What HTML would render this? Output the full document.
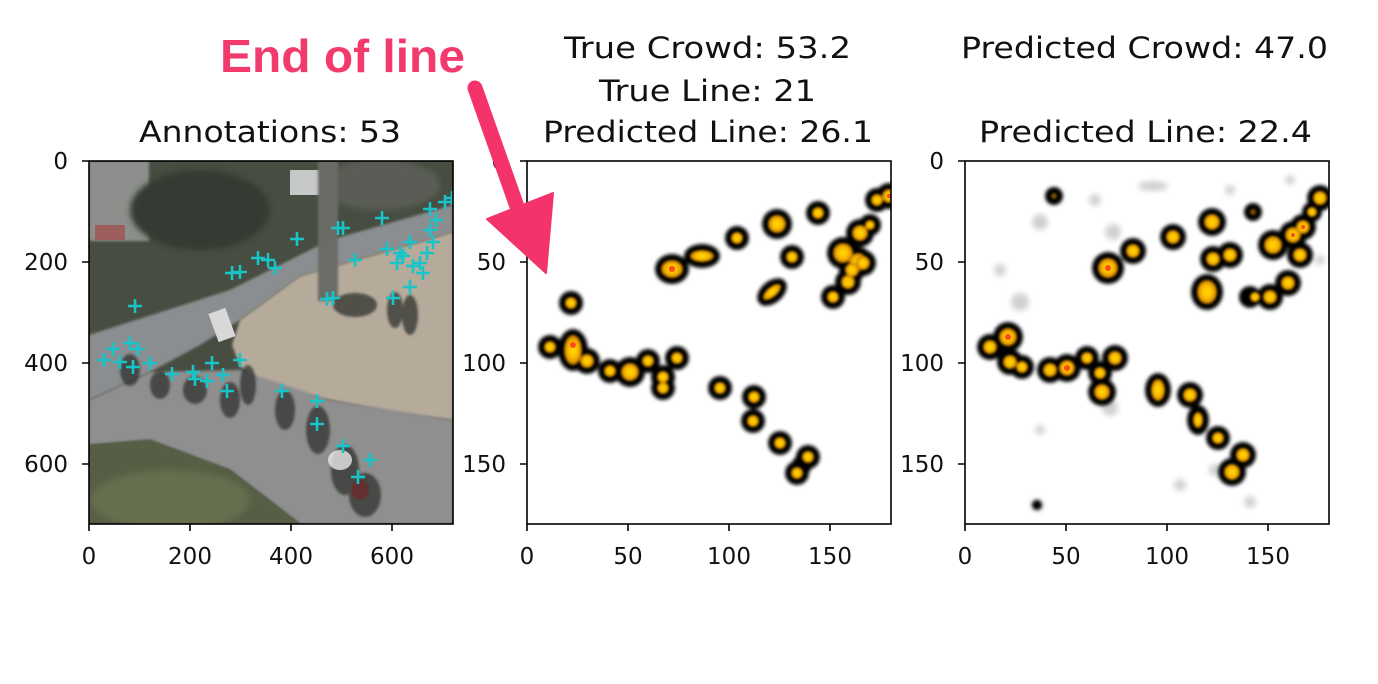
<!DOCTYPE html>
<html><head><meta charset="utf-8"><style>
html,body{margin:0;padding:0;background:#fff;}
svg{display:block;}
text{font-family:"DejaVu Sans","Liberation Sans",sans-serif;fill:#111;}
.t{font-size:29px;}
.k{font-size:23px;}
</style></head><body>
<svg width="1378" height="684" viewBox="0 0 1378 684" xmlns="http://www.w3.org/2000/svg">
<defs>
<clipPath id="c1"><rect x="89" y="161" width="364" height="363"/></clipPath>
<clipPath id="c2"><rect x="527" y="161" width="364" height="363"/></clipPath>
<clipPath id="c3"><rect x="965" y="161" width="364" height="363"/></clipPath>
<filter id="bl" x="-50%" y="-50%" width="200%" height="200%"><feGaussianBlur stdDeviation="1.8"/></filter>
<filter id="bl2" x="-50%" y="-50%" width="200%" height="200%"><feGaussianBlur stdDeviation="3"/></filter>
<filter id="bl3" x="-50%" y="-50%" width="200%" height="200%"><feGaussianBlur stdDeviation="1.2"/></filter>
<radialGradient id="g"><stop offset="0" stop-color="#ffdc00"/><stop offset="0.45" stop-color="#ffc400"/><stop offset="0.8" stop-color="#e59a00"/><stop offset="1" stop-color="#a86a00"/></radialGradient>
<g id="plus"><path d="M-7 0H7M0 -7V7" stroke="#19c4c9" stroke-width="2.6"/></g>
</defs>

<!-- Panel 1 photo -->
<g clip-path="url(#c1)">
<rect x="89" y="161" width="364" height="363" fill="#474d41"/>
<rect x="89" y="161" width="60" height="80" fill="#8d8f8c" filter="url(#bl3)"/>
<rect x="95" y="225" width="30" height="15" fill="#a34a4a" opacity="0.7"/>
<ellipse cx="200" cy="210" rx="70" ry="40" fill="#353b31" filter="url(#bl2)"/>
<ellipse cx="380" cy="185" rx="60" ry="25" fill="#5a5d55" filter="url(#bl2)"/>
<rect x="290" y="170" width="30" height="25" fill="#c7c9c8"/>
<polygon points="89,335 230,290 330,240 453,205 453,232 420,242 300,276 240,320 200,345 150,372 89,400" fill="#8b8e90" filter="url(#bl3)"/>
<polygon points="240,320 300,276 420,242 453,232 453,420 400,414 330,400 262,386 240,366 232,345" fill="#b6aa9b" filter="url(#bl3)"/>
<polygon points="89,400 150,372 240,370 330,400 453,420 453,524 300,524 230,470 150,440 89,445" fill="#8e8f8e" filter="url(#bl3)"/>
<polygon points="89,445 150,440 230,470 300,524 89,524" fill="#565e44" filter="url(#bl3)"/>
<ellipse cx="170" cy="500" rx="80" ry="30" fill="#6f7855" opacity="0.6" filter="url(#bl2)"/>
<rect x="318" y="161" width="20" height="140" fill="#6a6c66" filter="url(#bl3)"/>
<rect x="213" y="310" width="18" height="30" fill="#d8d8d8" transform="rotate(-20 222 325)"/>
<g fill="#2e302e" opacity="0.75" filter="url(#bl3)">
<ellipse cx="130" cy="370" rx="10" ry="16"/><ellipse cx="160" cy="385" rx="10" ry="14"/><ellipse cx="195" cy="390" rx="12" ry="14"/>
<ellipse cx="230" cy="400" rx="10" ry="18"/><ellipse cx="248" cy="385" rx="8" ry="20"/><ellipse cx="285" cy="410" rx="10" ry="20"/>
<ellipse cx="318" cy="430" rx="12" ry="24"/><ellipse cx="345" cy="470" rx="14" ry="25"/><ellipse cx="365" cy="495" rx="16" ry="22"/>
<ellipse cx="410" cy="315" rx="8" ry="20"/><ellipse cx="395" cy="310" rx="8" ry="18"/><ellipse cx="355" cy="305" rx="22" ry="12"/>
</g>
<ellipse cx="340" cy="460" rx="12" ry="10" fill="#e8e8e8" opacity="0.8"/>
<ellipse cx="360" cy="490" rx="9" ry="10" fill="#6a2a2a" opacity="0.8"/>
<g>
<use href="#plus" x="135" y="306"/><use href="#plus" x="113" y="349"/><use href="#plus" x="130" y="343"/><use href="#plus" x="138" y="349"/>
<use href="#plus" x="133" y="367"/><use href="#plus" x="150" y="363"/><use href="#plus" x="172" y="374"/><use href="#plus" x="193" y="372"/>
<use href="#plus" x="195" y="379"/><use href="#plus" x="212" y="363"/><use href="#plus" x="223" y="375"/><use href="#plus" x="227" y="391"/>
<use href="#plus" x="240" y="360"/><use href="#plus" x="282" y="391"/><use href="#plus" x="317" y="401"/><use href="#plus" x="317" y="424"/>
<use href="#plus" x="343" y="446"/><use href="#plus" x="370" y="460"/><use href="#plus" x="358" y="477"/><use href="#plus" x="232" y="273"/>
<use href="#plus" x="240" y="272"/><use href="#plus" x="258" y="258"/><use href="#plus" x="268" y="260"/><use href="#plus" x="297" y="239"/>
<use href="#plus" x="338" y="228"/><use href="#plus" x="343" y="228"/><use href="#plus" x="382" y="218"/><use href="#plus" x="430" y="209"/>
<use href="#plus" x="445" y="202"/><use href="#plus" x="355" y="260"/><use href="#plus" x="333" y="298"/><use href="#plus" x="327" y="299"/>
<use href="#plus" x="393" y="298"/><use href="#plus" x="410" y="287"/><use href="#plus" x="387" y="249"/><use href="#plus" x="400" y="253"/>
<use href="#plus" x="410" y="242"/><use href="#plus" x="420" y="263"/><use href="#plus" x="423" y="273"/><use href="#plus" x="430" y="230"/>
<use href="#plus" x="433" y="242"/><use href="#plus" x="397" y="263"/><use href="#plus" x="413" y="266"/><use href="#plus" x="403" y="256"/>
<use href="#plus" x="427" y="253"/><use href="#plus" x="436" y="220"/><use href="#plus" x="452" y="198"/><use href="#plus" x="104" y="360"/>
<use href="#plus" x="120" y="362"/><use href="#plus" x="207" y="381"/><use href="#plus" x="275" y="268"/>
</g>
</g>

<!-- Panel 2 blobs -->
<g clip-path="url(#c2)">
<g fill="#000" filter="url(#bl)">
<circle cx="571" cy="303" r="12"/><circle cx="550" cy="347" r="12"/><ellipse cx="573" cy="350" rx="15" ry="21"/><circle cx="587" cy="361" r="13"/>
<circle cx="610" cy="371" r="12"/><circle cx="630" cy="372" r="15"/><circle cx="648" cy="361" r="12"/><circle cx="663" cy="377" r="12"/><circle cx="663" cy="388" r="12"/>
<circle cx="677" cy="358" r="12"/><circle cx="720" cy="388" r="12"/><circle cx="754" cy="397" r="12"/><circle cx="753" cy="421" r="12"/>
<circle cx="780" cy="443" r="12"/><circle cx="808" cy="457" r="12"/><circle cx="797" cy="473" r="12"/><circle cx="802" cy="465" r="10"/>
<ellipse cx="672" cy="269" rx="17" ry="15"/><ellipse cx="702" cy="256" rx="18" ry="12"/><circle cx="737" cy="238" r="12"/><circle cx="777" cy="224" r="15"/>
<circle cx="818" cy="213" r="12"/><circle cx="792" cy="257" r="12"/><ellipse cx="772" cy="292" rx="17" ry="11" transform="rotate(-40 772 292)"/>
<circle cx="833" cy="297" r="12"/><circle cx="848" cy="282" r="13"/><circle cx="843" cy="253" r="16"/><circle cx="858" cy="262" r="15"/><circle cx="860" cy="233" r="14"/>
<circle cx="863" cy="263" r="13"/><circle cx="852" cy="270" r="13"/><circle cx="870" cy="225" r="11"/><circle cx="877" cy="200" r="12"/><circle cx="889" cy="196" r="13"/>
</g>
<g fill="url(#g)" filter="url(#bl3)">
<circle cx="571" cy="303" r="6"/><circle cx="550" cy="347" r="6"/><ellipse cx="573" cy="350" rx="9" ry="15"/><circle cx="587" cy="361" r="7"/>
<circle cx="610" cy="371" r="6"/><circle cx="630" cy="372" r="9"/><circle cx="648" cy="361" r="6"/><circle cx="663" cy="377" r="6"/><circle cx="663" cy="388" r="6"/>
<circle cx="677" cy="358" r="6"/><circle cx="720" cy="388" r="6"/><circle cx="754" cy="397" r="6"/><circle cx="753" cy="421" r="6"/>
<circle cx="780" cy="443" r="6"/><circle cx="808" cy="457" r="6"/><circle cx="797" cy="473" r="6"/>
<ellipse cx="672" cy="269" rx="11" ry="9"/><ellipse cx="702" cy="256" rx="12" ry="6"/><circle cx="737" cy="238" r="6"/><circle cx="777" cy="224" r="9"/>
<circle cx="818" cy="213" r="6"/><circle cx="792" cy="257" r="6"/><ellipse cx="772" cy="292" rx="11" ry="5" transform="rotate(-40 772 292)"/>
<circle cx="833" cy="297" r="6"/><circle cx="848" cy="282" r="7"/><circle cx="843" cy="253" r="10"/><circle cx="858" cy="262" r="9"/><circle cx="860" cy="233" r="8"/>
<circle cx="863" cy="263" r="7"/><circle cx="852" cy="270" r="7"/><circle cx="870" cy="225" r="5"/><circle cx="877" cy="200" r="6"/><circle cx="889" cy="196" r="7"/>
</g>
<g fill="#ff4a20"><circle cx="573" cy="345" r="3"/><circle cx="672" cy="269" r="3"/><circle cx="889" cy="196" r="2"/></g>
</g>

<!-- Panel 3 blobs -->
<g clip-path="url(#c3)">
<g fill="#000" opacity="0.18" filter="url(#bl2)">
<circle cx="1037" cy="505" r="6"/><circle cx="1040" cy="222" r="8"/><circle cx="1020" cy="302" r="9"/><circle cx="1113" cy="232" r="8"/>
<ellipse cx="1153" cy="186" rx="15" ry="5"/><circle cx="1110" cy="408" r="8"/><circle cx="1180" cy="485" r="6"/><circle cx="1250" cy="502" r="6"/>
<circle cx="1095" cy="200" r="6"/><circle cx="1215" cy="470" r="6"/><circle cx="1040" cy="430" r="5"/><circle cx="1000" cy="270" r="6"/>
<circle cx="1230" cy="190" r="5"/><circle cx="1320" cy="260" r="5"/><circle cx="1290" cy="180" r="5"/>
</g>
<g fill="#000" filter="url(#bl)">
<circle cx="1054" cy="196" r="9"/><circle cx="1037" cy="505" r="5"/><circle cx="1253" cy="212" r="9"/>
<circle cx="1108" cy="268" r="16"/><circle cx="1133" cy="251" r="13"/><circle cx="1173" cy="237" r="13"/><circle cx="1212" cy="222" r="14"/>
<circle cx="1213" cy="259" r="13"/><circle cx="1230" cy="255" r="13"/><ellipse cx="1207" cy="292" rx="16" ry="18"/>
<circle cx="1250" cy="297" r="11"/><circle cx="1270" cy="297" r="13"/><circle cx="1288" cy="283" r="13"/>
<circle cx="1273" cy="245" r="15"/><circle cx="1293" cy="235" r="14"/><circle cx="1303" cy="227" r="13"/><circle cx="1300" cy="255" r="13"/><circle cx="1320" cy="198" r="13"/><circle cx="1312" cy="212" r="10"/>
<circle cx="990" cy="347" r="13"/><circle cx="1008" cy="337" r="15"/><circle cx="1010" cy="362" r="13"/><circle cx="1022" cy="367" r="12"/>
<circle cx="1050" cy="370" r="13"/><circle cx="1067" cy="368" r="14"/><circle cx="1087" cy="358" r="12"/><circle cx="1100" cy="373" r="12"/><circle cx="1102" cy="392" r="14"/><circle cx="1115" cy="358" r="13"/>
<ellipse cx="1158" cy="390" rx="13" ry="17"/><circle cx="1190" cy="395" r="13"/><ellipse cx="1198" cy="420" rx="11" ry="15"/>
<circle cx="1218" cy="438" r="12"/><circle cx="1243" cy="455" r="13"/><circle cx="1232" cy="472" r="14"/>
</g>
<g fill="#7a5200" filter="url(#bl3)"><circle cx="1054" cy="196" r="3"/><circle cx="1253" cy="212" r="3"/></g>
<g fill="url(#g)" filter="url(#bl3)">
<circle cx="1108" cy="268" r="10"/><circle cx="1133" cy="251" r="7"/><circle cx="1173" cy="237" r="7"/><circle cx="1212" cy="222" r="8"/>
<circle cx="1213" cy="259" r="7"/><circle cx="1230" cy="255" r="7"/><ellipse cx="1207" cy="292" rx="10" ry="12"/>
<circle cx="1255" cy="297" r="5"/><circle cx="1270" cy="297" r="7"/><circle cx="1288" cy="283" r="7"/>
<circle cx="1273" cy="245" r="9"/><circle cx="1293" cy="235" r="8"/><circle cx="1303" cy="227" r="7"/><circle cx="1300" cy="255" r="7"/><circle cx="1320" cy="198" r="7"/><circle cx="1312" cy="212" r="5"/>
<circle cx="990" cy="347" r="7"/><circle cx="1008" cy="337" r="9"/><circle cx="1010" cy="362" r="7"/><circle cx="1022" cy="367" r="6"/>
<circle cx="1050" cy="370" r="7"/><circle cx="1067" cy="368" r="8"/><circle cx="1087" cy="358" r="6"/><circle cx="1100" cy="373" r="6"/><circle cx="1102" cy="392" r="8"/><circle cx="1115" cy="358" r="7"/>
<ellipse cx="1158" cy="390" rx="7" ry="11"/><circle cx="1190" cy="395" r="7"/><ellipse cx="1198" cy="420" rx="5" ry="8"/>
<circle cx="1218" cy="438" r="6"/><circle cx="1243" cy="455" r="7"/><circle cx="1232" cy="472" r="8"/>
</g>
<g fill="#ff4a20"><circle cx="1108" cy="268" r="3"/><circle cx="1067" cy="368" r="3"/><circle cx="1008" cy="337" r="3"/><circle cx="1293" cy="235" r="2"/><circle cx="1303" cy="227" r="2"/></g>
</g>

<!-- axes frames and ticks -->
<g fill="none" stroke="#000" stroke-width="1.6">
<rect x="89" y="161" width="364" height="363"/>
<rect x="527" y="161" width="364" height="363"/>
<rect x="965" y="161" width="364" height="363"/>
<path d="M89 161h-7M89 262h-7M89 363h-7M89 464h-7M89 524v7M190 524v7M291 524v7M392 524v7"/>
<path d="M527 161h-7M527 262h-7M527 363h-7M527 464h-7M527 524v7M628 524v7M729 524v7M830 524v7"/>
<path d="M965 161h-7M965 262h-7M965 363h-7M965 464h-7M965 524v7M1066 524v7M1167 524v7M1268 524v7"/>
</g>
<g class="k" text-anchor="end">
<text x="68" y="169">0</text><text x="68" y="270">200</text><text x="68" y="371">400</text><text x="68" y="472">600</text>
<text x="506" y="169">0</text><text x="506" y="270">50</text><text x="506" y="371">100</text><text x="506" y="472">150</text>
<text x="944" y="169">0</text><text x="944" y="270">50</text><text x="944" y="371">100</text><text x="944" y="472">150</text>
</g>
<g class="k" text-anchor="middle">
<text x="89" y="564">0</text><text x="190" y="564">200</text><text x="291" y="564">400</text><text x="392" y="564">600</text>
<text x="527" y="564">0</text><text x="628" y="564">50</text><text x="729" y="564">100</text><text x="830" y="564">150</text>
<text x="965" y="564">0</text><text x="1066" y="564">50</text><text x="1167" y="564">100</text><text x="1268" y="564">150</text>
</g>

<!-- titles -->
<g class="t">
<text x="139" y="142" textLength="262" lengthAdjust="spacingAndGlyphs">Annotations: 53</text>
<text x="564" y="58" textLength="287" lengthAdjust="spacingAndGlyphs">True Crowd: 53.2</text>
<text x="599" y="101" textLength="217" lengthAdjust="spacingAndGlyphs">True Line: 21</text>
<text x="543" y="142" textLength="330" lengthAdjust="spacingAndGlyphs">Predicted Line: 26.1</text>
<text x="961" y="58" textLength="367" lengthAdjust="spacingAndGlyphs">Predicted Crowd: 47.0</text>
<text x="979" y="142" textLength="333" lengthAdjust="spacingAndGlyphs">Predicted Line: 22.4</text>
</g>

<!-- annotation -->
<text x="220" y="72" textLength="245" lengthAdjust="spacingAndGlyphs" style="font-family:'Liberation Sans',sans-serif;font-weight:bold;font-size:46px;fill:#f23a6c;stroke:#fff;stroke-width:5;paint-order:stroke;">End of line</text>
<g fill="#f4336b" stroke="#f4336b" stroke-linejoin="round">
<path d="M475 88 L520 215" stroke-width="15" stroke-linecap="round" fill="none"/>
<polygon points="487,219 553,193 546,273" stroke-width="2"/>
</g>
</svg>
</body></html>
